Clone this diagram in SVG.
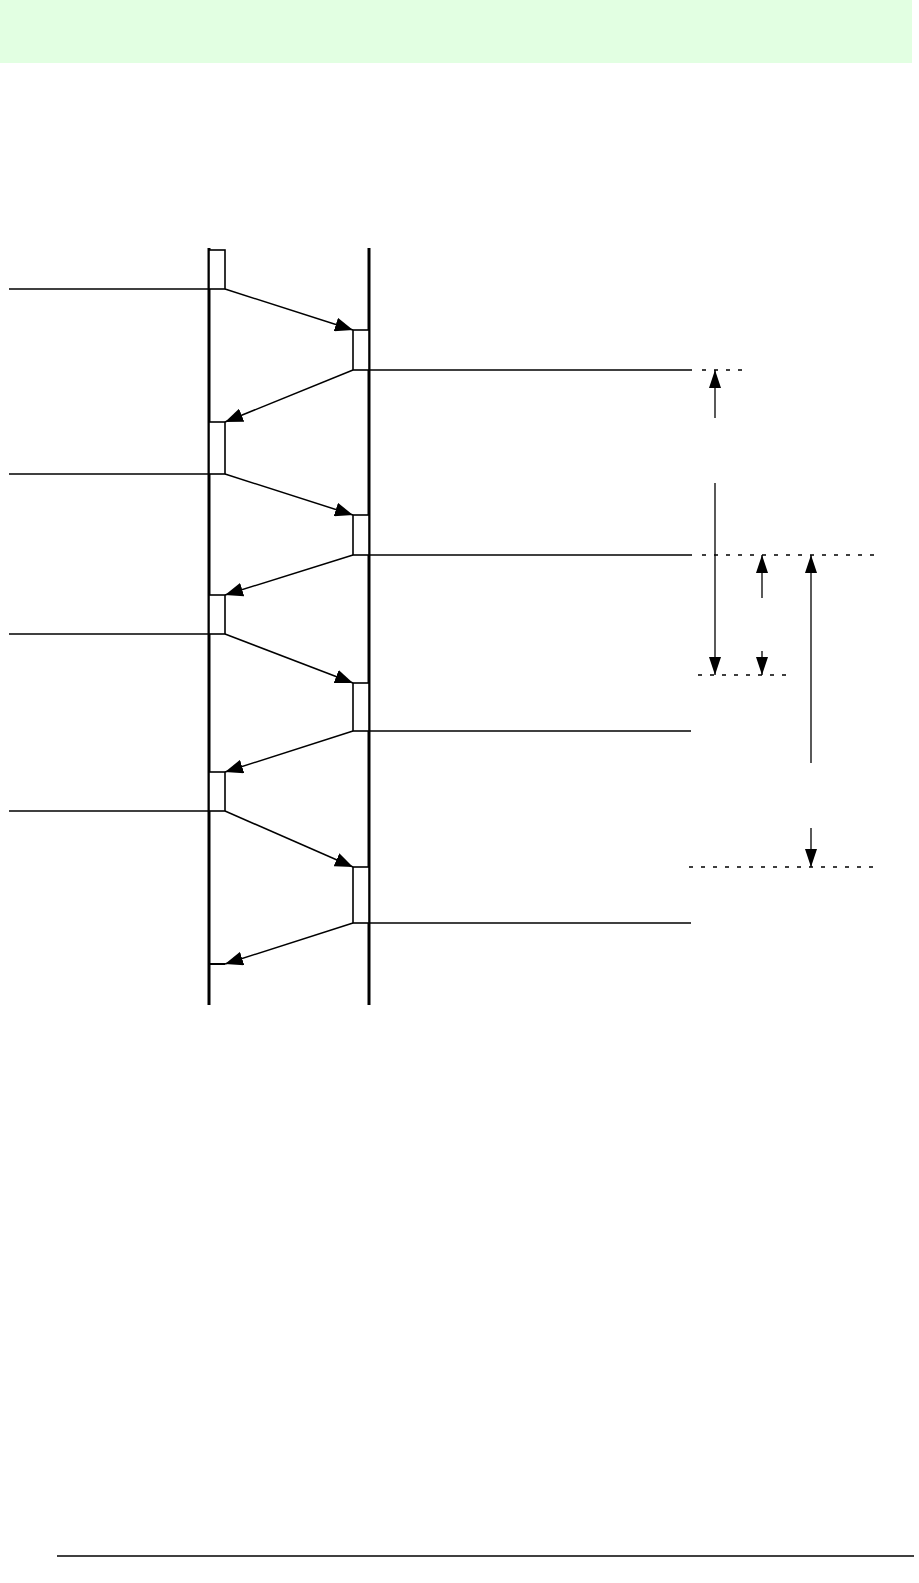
<svg xmlns="http://www.w3.org/2000/svg" width="919" height="1583" viewBox="0 0 919 1583">
<style>
.life{stroke:#000;stroke-width:3;fill:none}
.act{stroke:#000;stroke-width:1.6;fill:#fff}
.ln{stroke:#000;stroke-width:1.3;fill:none}
.msg{stroke:#000;stroke-width:1.5;fill:none;marker-end:url(#ah)}
.dim{stroke:#000;stroke-width:1.3;fill:none;marker-end:url(#ahd)}
.dash{stroke:#000;stroke-width:1.3;fill:none;stroke-dasharray:4 8}
</style>
<defs>
<marker id="ah" markerUnits="userSpaceOnUse" markerWidth="18" markerHeight="14" refX="18" refY="7" orient="auto">
<path d="M0,0 L18,7 L0,14 z" fill="#000"/>
</marker>
<marker id="ahd" markerUnits="userSpaceOnUse" markerWidth="18" markerHeight="12" refX="18" refY="6" orient="auto">
<path d="M0,0 L18,6 L0,12 z" fill="#000"/>
</marker>
</defs>
<rect x="0" y="0" width="912" height="63" fill="#e2ffe2"/>
<g id="lifeline-left">
<line class="life" x1="209" y1="248" x2="209" y2="1005"/>
</g>
<g id="lifeline-right">
<line class="life" x1="369" y1="248" x2="369" y2="1005"/>
</g>
<g id="activations-left">
<rect class="act" x="209" y="250" width="16" height="39"/>
<rect class="act" x="209" y="422" width="16" height="52"/>
<rect class="act" x="209" y="595" width="16" height="39"/>
<rect class="act" x="209" y="772" width="16" height="39"/>
<line class="ln" x1="209" y1="964" x2="225" y2="964" style="stroke-width:2"/>
</g>
<g id="activations-right">
<rect class="act" x="353" y="330" width="16" height="40"/>
<rect class="act" x="353" y="515" width="16" height="40"/>
<rect class="act" x="353" y="683" width="16" height="48"/>
<rect class="act" x="353" y="867" width="16" height="56"/>
</g>
<g id="connectors">
<line class="ln" x1="9" y1="289" x2="209" y2="289"/>
<line class="ln" x1="9" y1="474" x2="209" y2="474"/>
<line class="ln" x1="9" y1="634" x2="209" y2="634"/>
<line class="ln" x1="9" y1="811" x2="209" y2="811"/>
<line class="ln" x1="369" y1="370" x2="692" y2="370"/>
<line class="ln" x1="369" y1="555" x2="692" y2="555"/>
<line class="ln" x1="369" y1="731" x2="691" y2="731"/>
<line class="ln" x1="369" y1="923" x2="691" y2="923"/>
<line class="msg" x1="225" y1="289" x2="353" y2="330"/>
<line class="msg" x1="353" y1="370" x2="225" y2="422"/>
<line class="msg" x1="225" y1="474" x2="353" y2="515"/>
<line class="msg" x1="353" y1="555" x2="225" y2="595"/>
<line class="msg" x1="225" y1="634" x2="353" y2="683"/>
<line class="msg" x1="353" y1="731" x2="225" y2="772"/>
<line class="msg" x1="225" y1="811" x2="353" y2="867"/>
<line class="msg" x1="353" y1="923" x2="225" y2="964"/>
<line class="dash" x1="702" y1="370" x2="747" y2="370"/>
<line class="dash" x1="702" y1="555" x2="875" y2="555"/>
<line class="dash" x1="698" y1="675" x2="787" y2="675"/>
<line class="dash" x1="689" y1="867" x2="873" y2="867"/>
<line class="dim" x1="715" y1="418" x2="715" y2="370"/>
<line class="dim" x1="715" y1="483" x2="715" y2="675"/>
<line class="dim" x1="762" y1="598" x2="762" y2="555"/>
<line class="dim" x1="762" y1="651" x2="762" y2="675"/>
<line class="dim" x1="811" y1="763" x2="811" y2="555"/>
<line class="dim" x1="811" y1="828" x2="811" y2="867"/>
</g>
<line x1="57" y1="1556" x2="914" y2="1556" stroke="#000" stroke-width="1.5"/>
</svg>
